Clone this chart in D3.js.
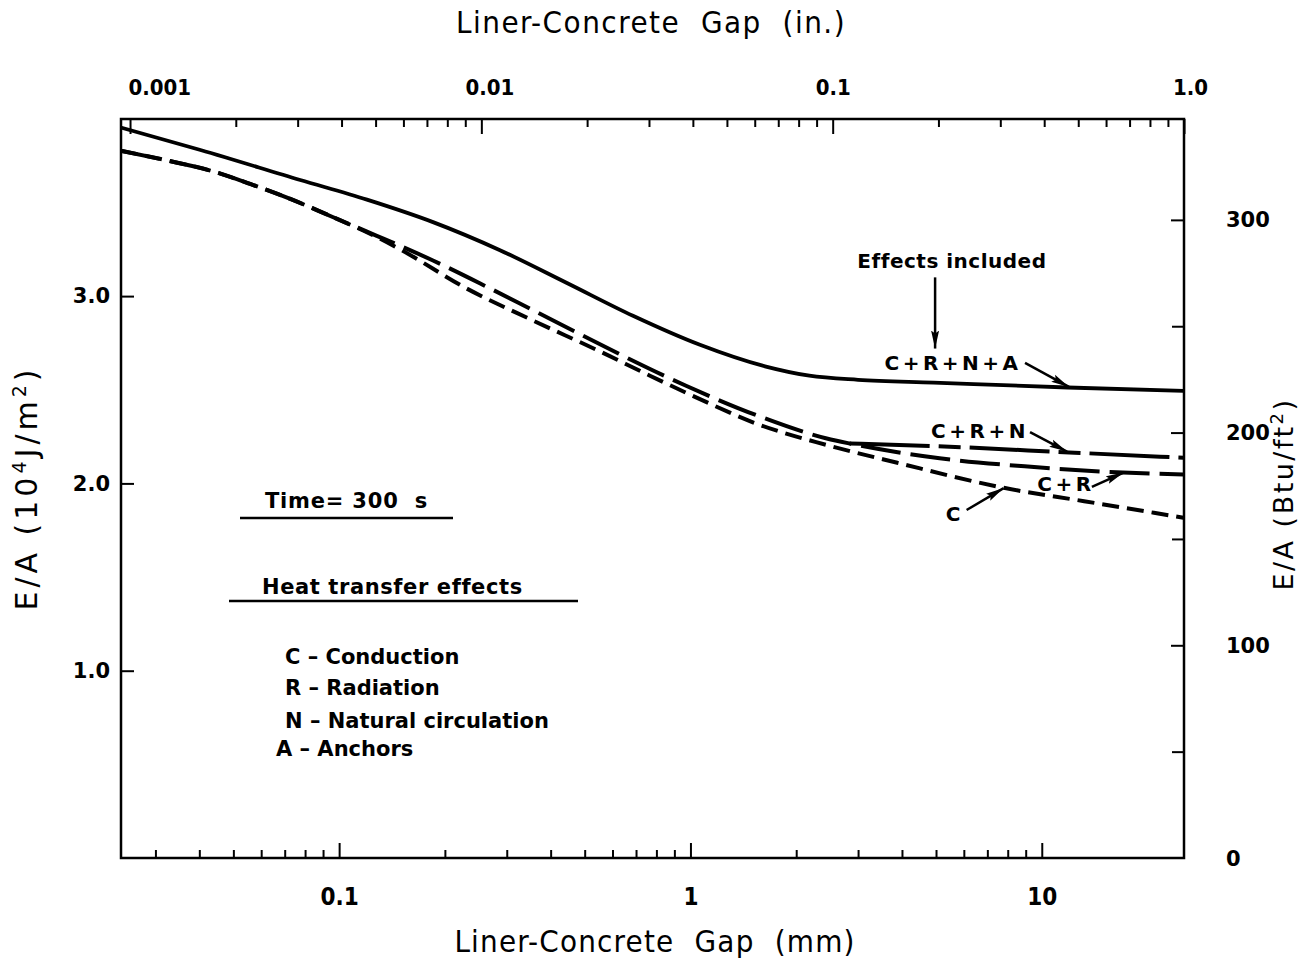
<!DOCTYPE html>
<html><head><meta charset="utf-8">
<script src="https://cdn.jsdelivr.net/npm/d3@7"></script>
<style>
body{margin:0;background:#fff;}
svg{display:block;background:#fff;}
</style></head><body>
<svg id="chart" width="1305" height="961"></svg>
<script>
// ---------------- data (gap in mm, E/A in 10^4 J/m^2) ----------------
const crnaGap = [0.0239, 0.0403, 0.0775, 0.120, 0.185, 0.287, 0.445, 0.686, 1.064, 1.63, 2.18, 3.0, 4.92, 11.85, 25.3];
const crnaVal = [3.90, 3.78, 3.62, 3.515, 3.395, 3.245, 3.07, 2.895, 2.74, 2.625, 2.575, 2.553, 2.538, 2.512, 2.494];

const crGap = [0.0239, 0.0324, 0.0430, 0.0558, 0.0726, 0.0962, 0.128, 0.149, 0.185, 0.263, 0.356, 0.518, 0.686, 0.975, 1.536, 2.444, 2.84, 5.12, 8.94, 14.6, 25.3];
const crVal = [3.776, 3.724, 3.670, 3.599, 3.519, 3.421, 3.322, 3.269, 3.19, 3.05, 2.925, 2.77, 2.655, 2.52, 2.365, 2.24, 2.213, 2.134, 2.091, 2.064, 2.048];

const crnGap = [2.84, 4.92, 12.4, 25.3];
const crnVal = [2.213, 2.199, 2.164, 2.137];

const cGap = [0.0239, 0.0324, 0.0430, 0.0558, 0.0726, 0.0962, 0.128, 0.149, 0.231, 0.356, 0.552, 0.767, 1.064, 1.536, 2.444, 3.88, 7.86, 13.2, 25.3];
const cVal = [3.776, 3.724, 3.670, 3.599, 3.519, 3.421, 3.315, 3.25, 3.04, 2.87, 2.705, 2.575, 2.45, 2.32, 2.205, 2.11, 1.975, 1.905, 1.817];

// axis ticks
const bottomMajor = [0.1, 1, 10];
const bottomMajorLabels = ["0.1", "1", "10"];
const bottomMinor = [0.03,0.04,0.05,0.06,0.07,0.08,0.09,0.2,0.3,0.4,0.5,0.6,0.7,0.8,0.9,2,3,4,5,6,7,8,9];
const topMajor = [0.001, 0.01, 0.1, 1.0];
const topMajorLabels = ["0.001", "0.01", "0.1", "1.0"];
const topMinor = [0.002,0.003,0.004,0.005,0.006,0.007,0.008,0.009,0.02,0.03,0.04,0.05,0.06,0.07,0.08,0.09,0.2,0.3,0.4,0.5,0.6,0.7,0.8,0.9];
const leftTicks = [1.0, 2.0, 3.0];
const leftTickLabels = ["1.0", "2.0", "3.0"];
const rightMajor = [0, 100, 200, 300];
const rightMajorLabels = ["0", "100", "200", "300"];
const rightMinor = [50, 150, 250];

// legend / annotation texts
const legendItems = ["C \u2013 Conduction", "R \u2013 Radiation", "N \u2013 Natural circulation", "A \u2013 Anchors"];
const curveLabels = ["C+R+N+A", "C+R+N", "C+R", "C"];

// ---------------- layout ----------------
const svg = d3.select("#chart");
const L = 121, R = 1184, T = 119, B = 858;
const MM_PER_IN = 25.4;
const BTU_FACTOR = 1.13565; // 100 Btu/ft^2 in left-axis units

const x = d3.scaleLog().domain([0.02394, 25.4]).range([L, R]);
const xIn = d3.scaleLog().domain(x.domain().map(d => d / MM_PER_IN)).range([L, R]);
const y = d3.scaleLinear().domain([0, (B - T) / 187.3]).range([B, T]);
const yR = d3.scaleLinear().domain(y.domain().map(v => v / BTU_FACTOR * 100)).range([B, T]);

const boldFont = "'DejaVu Sans', sans-serif";
const narrowFont = "'DejaVu Sans Condensed', 'Liberation Sans Narrow', 'DejaVu Sans', sans-serif";

// arrow marker
const defs = svg.append("defs");
defs.append("marker").attr("id", "arr").attr("viewBox", "0 0 18 9")
  .attr("refX", 18).attr("refY", 4.5).attr("markerWidth", 18).attr("markerHeight", 9)
  .attr("markerUnits", "userSpaceOnUse").attr("orient", "auto")
  .append("path").attr("d", "M0,0.5 L18,4.5 L0,8.5 L3,4.5 Z").attr("fill", "#000");

// ---------------- axes ----------------
function styleAxis(g) {
  g.select(".domain").remove();
  g.selectAll(".tick line").attr("stroke", "#000").attr("stroke-width", 2);
}
// bottom
svg.append("g").attr("transform", `translate(0,${B})`)
  .call(d3.axisBottom(x).tickValues(bottomMajor).tickSize(-15).tickPadding(30)
    .tickFormat((d, i) => bottomMajorLabels[i]))
  .call(styleAxis)
  .call(g => g.selectAll("text").attr("font-family", narrowFont).attr("font-weight", "bold")
    .attr("font-size", 24).attr("fill", "#000"));
svg.append("g").attr("transform", `translate(0,${B})`)
  .call(d3.axisBottom(x).tickValues(bottomMinor).tickSize(-8).tickFormat(""))
  .call(styleAxis);
// top
svg.append("g").attr("transform", `translate(0,${T})`)
  .call(d3.axisTop(xIn).tickValues(topMajor).tickSize(-15).tickPadding(24)
    .tickFormat((d, i) => topMajorLabels[i]))
  .call(styleAxis)
  .call(g => {
    g.selectAll("text").attr("font-family", narrowFont).attr("font-weight", "bold")
      .attr("font-size", 22).attr("fill", "#000");
    g.selectAll("text").filter((d, i) => i === 0).attr("text-anchor", "start").attr("dx", -2);
    g.selectAll("text").filter((d, i) => i === 1).attr("dx", 8);
    g.selectAll("text").filter((d, i) => i === 3).attr("dx", 6);
  });
svg.append("g").attr("transform", `translate(0,${T})`)
  .call(d3.axisTop(xIn).tickValues(topMinor).tickSize(-8).tickFormat(""))
  .call(styleAxis);
// left
svg.append("g").attr("transform", `translate(${L},0)`)
  .call(d3.axisLeft(y).tickValues(leftTicks).tickSize(-13).tickPadding(11)
    .tickFormat((d, i) => leftTickLabels[i]))
  .call(styleAxis)
  .call(g => g.selectAll("text").attr("font-family", boldFont).attr("font-weight", "bold")
    .attr("font-size", 21).attr("fill", "#000"));
// right
svg.append("g").attr("transform", `translate(${R},0)`)
  .call(d3.axisRight(yR).tickValues(rightMajor.filter(d => d > 0)).tickSize(-13).tickFormat(""))
  .call(styleAxis);
svg.append("g").attr("transform", `translate(${R},0)`)
  .call(d3.axisRight(yR).tickValues(rightMinor).tickSize(-12).tickFormat(""))
  .call(styleAxis);
svg.append("g").selectAll("text").data(rightMajor).join("text")
  .attr("x", R + 42).attr("y", d => yR(d)).attr("dy", "0.36em")
  .attr("font-family", boldFont).attr("font-weight", "bold").attr("font-size", 21)
  .text((d, i) => rightMajorLabels[i]);

// frame
svg.append("rect").attr("x", L).attr("y", T).attr("width", R - L).attr("height", B - T)
  .attr("fill", "none").attr("stroke", "#000").attr("stroke-width", 2.5);

// axis titles
svg.append("text").attr("x", 651).attr("y", 33).attr("text-anchor", "middle")
  .attr("font-family", narrowFont).attr("font-size", 31).attr("letter-spacing", 1.5)
  .style("white-space", "pre")
  .text("Liner-Concrete  Gap  (in.)");
svg.append("text").attr("x", 655).attr("y", 952).attr("text-anchor", "middle")
  .attr("font-family", narrowFont).attr("font-size", 31).attr("letter-spacing", 1.2)
  .style("white-space", "pre")
  .text("Liner-Concrete  Gap  (mm)");

const lt = svg.append("text").attr("transform", "translate(37,488) rotate(-90)")
  .attr("text-anchor", "middle").attr("font-family", boldFont).attr("font-size", 30)
  .attr("letter-spacing", 4);
lt.append("tspan").text("E/A (10");
lt.append("tspan").attr("baseline-shift", "super").attr("font-size", 19).text("4");
lt.append("tspan").text("J/m");
lt.append("tspan").attr("baseline-shift", "super").attr("font-size", 19).text("2");
lt.append("tspan").text(")");

const rt = svg.append("text").attr("transform", "translate(1293,494) rotate(-90)")
  .attr("text-anchor", "middle").attr("font-family", boldFont).attr("font-size", 27)
  .attr("letter-spacing", 2.5);
rt.append("tspan").text("E/A (Btu/ft");
rt.append("tspan").attr("baseline-shift", "super").attr("font-size", 18).text("2");
rt.append("tspan").text(")");

// ---------------- curves ----------------
const line = d3.line().x(d => x(d[0])).y(d => y(d[1])).curve(d3.curveMonotoneX);
const zip = (a, b) => a.map((v, i) => [v, b[i]]);
const curves = [
  {gap: cGap, val: cVal, dash: "17,8", w: 4},
  {gap: crGap, val: crVal, dash: "40,10", w: 4},
  {gap: crnGap, val: crnVal, dash: "80,9,22,9", w: 4},
  {gap: crnaGap, val: crnaVal, dash: null, w: 3.8}
];
svg.append("g").selectAll("path").data(curves).join("path")
  .attr("d", d => line(zip(d.gap, d.val)))
  .attr("fill", "none").attr("stroke", "#000").attr("stroke-width", d => d.w)
  .attr("stroke-dasharray", d => d.dash);

// ---------------- annotations ----------------
const ann = svg.append("g").attr("font-family", boldFont).attr("font-weight", "bold")
  .attr("font-size", 20).attr("fill", "#000");
ann.append("text").attr("x", x(5.55)).attr("y", y(3.15)).attr("text-anchor", "middle")
  .attr("letter-spacing", 0.5).text("Effects included");
ann.append("line").attr("x1", x(4.97)).attr("y1", y(3.10)).attr("x2", x(4.97)).attr("y2", y(2.72))
  .attr("stroke", "#000").attr("stroke-width", 2.5).attr("marker-end", "url(#arr)");

const labelPos = [
  {gap: 5.59, val: 2.605, from: [8.96, 2.643], to: [11.95, 2.515]},  // C+R+N+A
  {gap: 6.67, val: 2.242, from: [9.26, 2.274], to: [11.8, 2.170]},   // C+R+N
  {gap: 11.72, val: 1.96, from: [13.89, 1.981], to: [17.1, 2.058]},  // C+R
  {gap: 5.66, val: 1.80, from: [6.11, 1.858], to: [7.79, 1.975]}     // C
];
curveLabels.forEach((t, i) => {
  const p = labelPos[i];
  ann.append("text").attr("x", x(p.gap)).attr("y", y(p.val)).attr("text-anchor", "middle")
    .attr("letter-spacing", 3.5).text(t);
  ann.append("line").attr("x1", x(p.from[0])).attr("y1", y(p.from[1]))
    .attr("x2", x(p.to[0])).attr("y2", y(p.to[1]))
    .attr("stroke", "#000").attr("stroke-width", 2.5).attr("marker-end", "url(#arr)");
});

// ---------------- legend block ----------------
const leg = svg.append("g").attr("font-family", boldFont).attr("font-weight", "bold")
  .attr("font-size", 21).attr("fill", "#000");
leg.append("text").attr("x", 265).attr("y", 508).attr("letter-spacing", 0.8)
  .style("white-space", "pre").text("Time= 300  s");
leg.append("line").attr("x1", 240).attr("x2", 453).attr("y1", 518).attr("y2", 518)
  .attr("stroke", "#000").attr("stroke-width", 2.5);
leg.append("text").attr("x", 262).attr("y", 594).attr("letter-spacing", 0.6).text("Heat transfer effects");
leg.append("line").attr("x1", 229).attr("x2", 578).attr("y1", 601).attr("y2", 601)
  .attr("stroke", "#000").attr("stroke-width", 2.5);
const legY = [664, 695, 728, 756];
const legX = [285, 285, 285, 276];
leg.selectAll("text.item").data(legendItems).join("text").attr("class", "item")
  .attr("x", (d, i) => legX[i]).attr("y", (d, i) => legY[i]).text(d => d);
</script>
</body></html>
